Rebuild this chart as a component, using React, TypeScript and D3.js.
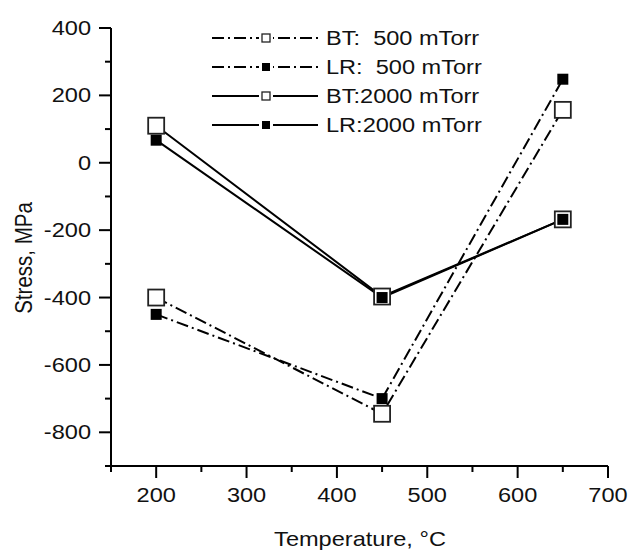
import React from 'react';
import * as d3 from 'd3';

// temperatures (°C) and stress values (MPa)
const temps = [200, 450, 650];
const bt500 = [-400, -745, 157];
const lr500 = [-450, -700, 248];
const bt2000 = [110, -397, -168];
const lr2000 = [67, -400, -168];

const xMajor = [200, 300, 400, 500, 600, 700];
const xMinor = [150, 250, 350, 450, 550, 650];
const yMajor = [-800, -600, -400, -200, 0, 200, 400];
const yMinor = [-900, -700, -500, -300, -100, 100, 300];

const seriesNames = ['BT:  500 mTorr', 'LR:  500 mTorr', 'BT:2000 mTorr', 'LR:2000 mTorr'];
const seriesValues = [bt500, lr500, bt2000, lr2000];
const seriesFilled = [false, true, false, true];
const seriesDashed = [true, true, false, false];

const FONT = "'Liberation Sans', Arial, Helvetica, sans-serif";
const SX = 1.15; // the original text is a bit wider than plain Arial

const Txt = ({ x, y, anchor = 'start', size = 20.5, rotate = false, children }) => (
    <text
        transform={`translate(${x},${y}) scale(${SX},1)${rotate ? ' rotate(-90)' : ''}`}
        textAnchor={anchor}
        fontFamily={FONT}
        fontSize={size}
        fill="#111"
        style={{ whiteSpace: 'pre' }}
    >
        {children}
    </text>
);

const Marker = ({ cx, cy, filled, big }) => {
    if (filled) {
        const s = big ? 11 : 8;
        return <rect x={cx - s / 2} y={cy - s / 2} width={s} height={s} fill="#000" />;
    }
    const s = big ? 16 : 8;
    return (
        <rect x={cx - s / 2} y={cy - s / 2} width={s} height={s}
            fill="#fff" stroke="#222" strokeWidth={big ? 1.8 : 1.3} />
    );
};

const App = () => {
    const width = 629;
    const height = 550;

    const x = d3.scaleLinear().domain([150, 700]).range([111, 608]);
    const y = d3.scaleLinear().domain([-900, 400]).range([466, 28]);

    const line = d3.line<number>()
        .x((d, i) => x(temps[i]))
        .y(d => y(d));

    const dash = '12,4,2,4';
    const legendRows = [38, 67, 96, 125];

    return (
        <svg width={width} height={height} style={{ position: 'absolute', left: 0, top: 0 }}>
            <rect width={width} height={height} fill="#fff" />

            {/* axes */}
            <g stroke="#000" strokeWidth={2} fill="none">
                <line x1={x(150)} x2={x(150)} y1={y(400)} y2={y(-900) + 1} />
                <line x1={x(150) - 1} x2={x(700)} y1={y(-900)} y2={y(-900)} />
                {xMajor.map(t => <line key={'xm' + t} x1={x(t)} x2={x(t)} y1={y(-900)} y2={y(-900) + 12} />)}
                {xMinor.map(t => <line key={'xn' + t} x1={x(t)} x2={x(t)} y1={y(-900)} y2={y(-900) + 6} />)}
                {yMajor.map(t => <line key={'ym' + t} x1={x(150) - 12} x2={x(150)} y1={y(t)} y2={y(t)} />)}
                {yMinor.map(t => <line key={'yn' + t} x1={x(150) - 6} x2={x(150)} y1={y(t)} y2={y(t)} />)}
            </g>

            {xMajor.map(t => (
                <Txt key={'xl' + t} x={x(t)} y={y(-900) + 36} anchor="middle">{t}</Txt>
            ))}
            {yMajor.map(t => (
                <Txt key={'yl' + t} x={x(150) - 20} y={y(t) + 7} anchor="end">{t}</Txt>
            ))}

            <Txt x={360} y={546} anchor="middle">Temperature, °C</Txt>
            <Txt x={32} y={258} anchor="middle" rotate>Stress, MPa</Txt>

            {/* data lines */}
            {seriesValues.map((vals, i) => (
                <path key={'l' + i} d={line(vals)} fill="none" stroke="#000" strokeWidth={2}
                    strokeDasharray={seriesDashed[i] ? dash : undefined} />
            ))}
            {seriesValues.map((vals, i) => (
                <g key={'m' + i}>
                    {vals.map((v, j) => (
                        <Marker key={j} cx={x(temps[j])} cy={y(v)} filled={seriesFilled[i]} big />
                    ))}
                </g>
            ))}

            {/* legend */}
            {seriesNames.map((name, i) => (
                <g key={'lg' + i}>
                    <line x1={212} x2={318} y1={legendRows[i]} y2={legendRows[i]} stroke="#000" strokeWidth={2}
                        strokeDasharray={seriesDashed[i] ? dash : undefined} />
                    <rect x={259} y={legendRows[i] - 7} width={14} height={14} fill="#fff" />
                    <Marker cx={266} cy={legendRows[i]} filled={seriesFilled[i]} big={false} />
                    <Txt x={326} y={legendRows[i] + 7}>{name}</Txt>
                </g>
            ))}
        </svg>
    );
};

export default App;
